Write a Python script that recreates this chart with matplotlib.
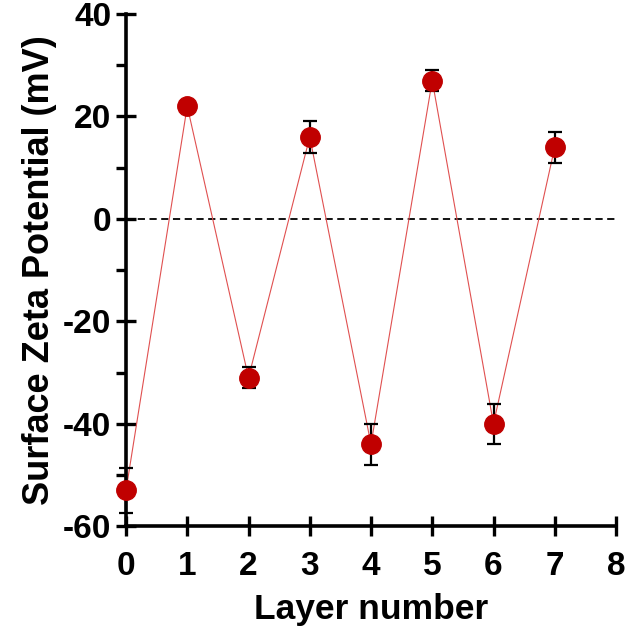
import matplotlib.pyplot as plt
from matplotlib.ticker import MultipleLocator

layers = [0, 1, 2, 3, 4, 5, 6, 7]
zeta = [-53, 22, -31, 16, -44, 27, -40, 14]
err = [4.4, 1, 2, 3.2, 4, 2, 3.9, 3]

plt.rcParams['font.family'] = ['Liberation Sans', 'DejaVu Sans']
plt.rcParams['font.weight'] = 'bold'
plt.rcParams['axes.unicode_minus'] = False

fig = plt.figure(figsize=(6.25, 6.34), dpi=100)
ax = fig.add_axes([0.2016, 0.170, 0.784, 0.808])

ax.axhline(0, color='black', lw=1.3, ls=(0, (4, 2.5)), zorder=1)
ax.plot(layers, zeta, color='#e05050', lw=0.8, zorder=2)
ax.errorbar(layers, zeta, yerr=err, fmt='none', ecolor='black', elinewidth=1.6,
            capsize=4.8, capthick=1.6, zorder=3)
ax.plot(layers, zeta, 'o', color='#c00000', markersize=14, mec='#c00000', zorder=4)

ax.set_xlim(0, 8)
ax.set_ylim(-60, 40)
ax.xaxis.set_major_locator(MultipleLocator(1))
ax.yaxis.set_major_locator(MultipleLocator(20))
ax.yaxis.set_minor_locator(MultipleLocator(10))

for s in ['top', 'right']:
    ax.spines[s].set_visible(False)
for s in ['left', 'bottom']:
    ax.spines[s].set_linewidth(2.6)
ax.spines['left'].set_bounds(-60, 40)
ax.spines['bottom'].set_bounds(0, 8)

ax.tick_params(axis='both', which='major', direction='inout', length=15, width=2.4,
               labelsize=24)
ax.tick_params(axis='x', which='major', pad=10)
ax.tick_params(axis='y', which='major', pad=3)
ax.tick_params(axis='y', which='minor', direction='out', length=7, width=2.4)
for lab in ax.get_xticklabels() + ax.get_yticklabels():
    lab.set_fontweight('bold')

ax.set_xlabel('Layer number', fontsize=25.5, fontweight='bold', labelpad=8)
ax.set_ylabel('Surface Zeta Potential (mV)', fontsize=26, fontweight='bold', labelpad=4)
for art in ax.lines + ax.collections:
    art.set_clip_on(False)

fig.savefig('out.png', dpi=100)
